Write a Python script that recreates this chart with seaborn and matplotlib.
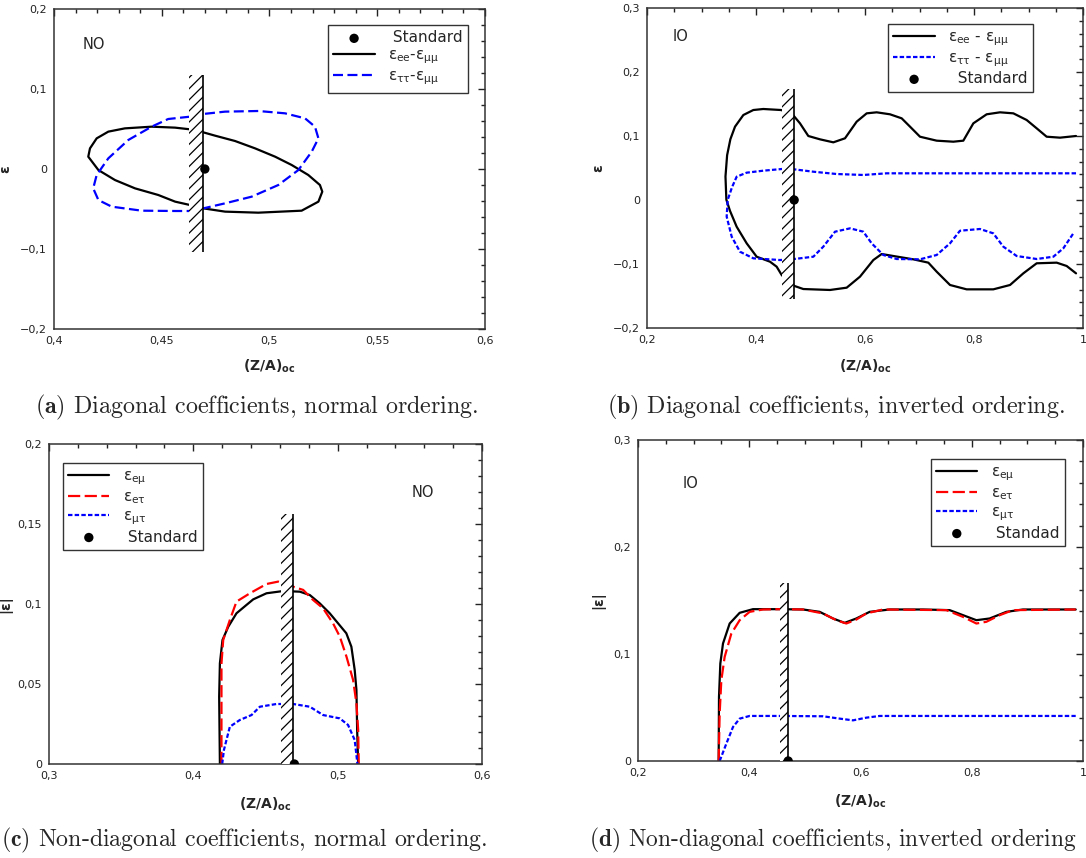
import matplotlib
matplotlib.use('Agg')
import matplotlib.pyplot as plt
import seaborn as sns
from matplotlib.patches import Rectangle
from matplotlib.ticker import MultipleLocator, FuncFormatter

# --- (a) diagonal, normal ordering ---
a_ee_x = [0.4631, 0.4562, 0.4453, 0.4329, 0.4252, 0.4198, 0.4167, 0.4159, 0.4206, 0.4283, 0.4376, 0.4484,
          0.4562, 0.4631, 0.4693, 0.4794, 0.4948, 0.5149, 0.5227, 0.5245, 0.5234, 0.5180, 0.5103, 0.5026,
          0.4933, 0.4840, 0.4747, 0.4693, 0.4631]
a_ee_y = [0.0496, 0.0517, 0.0529, 0.0508, 0.0467, 0.0383, 0.0258, 0.0154, -0.0013, -0.0138, -0.0242, -0.0325,
          -0.0408, -0.0450, -0.0492, -0.0533, -0.0546, -0.0521, -0.0408, -0.0283, -0.0200, -0.0075, 0.0050, 0.0154,
          0.0258, 0.0350, 0.0417, 0.0458, 0.0496]
a_tt_x = [0.4631, 0.4530, 0.4453, 0.4345, 0.4252, 0.4198, 0.4182, 0.4206, 0.4268, 0.4407, 0.4562, 0.4631,
          0.4693, 0.4794, 0.4917, 0.5041, 0.5134, 0.5196, 0.5227, 0.5211, 0.5165, 0.5072, 0.4948, 0.4794,
          0.4693, 0.4631]
a_tt_y = [0.0654, 0.0625, 0.0529, 0.0363, 0.0133, -0.0075, -0.0242, -0.0388, -0.0471, -0.0521, -0.0525, -0.0525,
          -0.0492, -0.0429, -0.0346, -0.0200, -0.0013, 0.0217, 0.0383, 0.0529, 0.0633, 0.0696, 0.0725, 0.0717,
          0.0688, 0.0654]

# --- (b) diagonal, inverted ordering ---
b_ee_x = [0.9872, 0.9578, 0.9333, 0.9150, 0.8966, 0.8722, 0.8477, 0.8232, 0.7988, 0.7804, 0.7621, 0.7315,
          0.7009, 0.6826, 0.6673, 0.6459, 0.6214, 0.6031, 0.5847, 0.5633, 0.5419, 0.5174, 0.4960, 0.4807,
          0.4654, 0.4459, 0.4134, 0.3951, 0.3768, 0.3615, 0.3530, 0.3470, 0.3440, 0.3456, 0.3523, 0.3645,
          0.3829, 0.4012, 0.4257, 0.4379, 0.4471, 0.4654, 0.4868, 0.5358, 0.5664, 0.5908, 0.6153, 0.6306,
          0.6520, 0.6887, 0.7162, 0.7315, 0.7560, 0.7865, 0.8354, 0.8661, 0.8905, 0.9150, 0.9517, 0.9700, 0.9872]
b_ee_y = [0.1000, 0.0974, 0.0989, 0.1120, 0.1250, 0.1354, 0.1370, 0.1339, 0.1198, 0.0927, 0.0911, 0.0927,
          0.0989, 0.1146, 0.1276, 0.1339, 0.1370, 0.1354, 0.1224, 0.0964, 0.0901, 0.0948, 0.1000, 0.1198,
          0.1354, 0.1406, 0.1422, 0.1406, 0.1328, 0.1146, 0.0950, 0.0700, 0.0367, 0.0005, -0.0170, -0.0417,
          -0.0677, -0.0886, -0.0964, -0.1042, -0.1172, -0.1328, -0.1391, -0.1406, -0.1370, -0.1198, -0.0938, -0.0844,
          -0.0875, -0.0927, -0.0979, -0.1120, -0.1328, -0.1396, -0.1396, -0.1328, -0.1146, -0.0989, -0.0979, -0.1031, -0.1146]
b_tt_x = [0.9872, 0.6398, 0.5969, 0.5480, 0.5052, 0.4654, 0.4471, 0.4134, 0.3829, 0.3645, 0.3560, 0.3480,
          0.3462, 0.3554, 0.3706, 0.3951, 0.4440, 0.4654, 0.5052, 0.5235, 0.5450, 0.5725, 0.5969, 0.6122,
          0.6336, 0.6581, 0.7009, 0.7315, 0.7560, 0.7743, 0.8110, 0.8354, 0.8538, 0.8783, 0.9150, 0.9456,
          0.9639, 0.9823]
b_tt_y = [0.0417, 0.0417, 0.0391, 0.0406, 0.0442, 0.0484, 0.0484, 0.0458, 0.0427, 0.0364, 0.0200, 0.0000,
          -0.0260, -0.0573, -0.0808, -0.0911, -0.0938, -0.0927, -0.0886, -0.0729, -0.0495, -0.0443, -0.0495, -0.0677,
          -0.0859, -0.0922, -0.0927, -0.0859, -0.0677, -0.0480, -0.0453, -0.0521, -0.0729, -0.0875, -0.0922, -0.0886,
          -0.0755, -0.0521]

# --- (c) non-diagonal, normal ordering ---
c_em_x = [0.4184, 0.4179, 0.4184, 0.4202, 0.4242, 0.4299, 0.4368, 0.4415, 0.4507, 0.4622, 0.4738, 0.4807,
          0.4876, 0.4945, 0.5003, 0.5060, 0.5095, 0.5118, 0.5130, 0.5135, 0.5142]
c_em_y = [0.0, 0.0421, 0.0629, 0.0775, 0.0858, 0.0942, 0.0994, 0.1029, 0.1067, 0.1081, 0.1077, 0.1056,
          0.1004, 0.0942, 0.0879, 0.0817, 0.0733, 0.0588, 0.0463, 0.0213, 0.0]
c_et_x = [0.4195, 0.4195, 0.4195, 0.4207, 0.4253, 0.4299, 0.4392, 0.4507, 0.4588, 0.4692, 0.4761, 0.4830,
          0.4899, 0.4968, 0.5015, 0.5061, 0.5107, 0.5130, 0.5142, 0.5146]
c_et_y = [0.0, 0.0213, 0.0629, 0.0775, 0.0900, 0.1015, 0.1067, 0.1125, 0.1140, 0.1108, 0.1088, 0.1025,
          0.0973, 0.0879, 0.0796, 0.0671, 0.0525, 0.0379, 0.0213, 0.0]
c_mt_x = [0.4200, 0.4212, 0.4253, 0.4322, 0.4403, 0.4461, 0.4576, 0.4692, 0.4807, 0.4899, 0.5015, 0.5072,
          0.5118, 0.5137]
c_mt_y = [0.0, 0.0088, 0.0233, 0.0275, 0.0306, 0.0358, 0.0375, 0.0375, 0.0358, 0.0306, 0.0285, 0.0244,
          0.0150, 0.0]

# --- (d) non-diagonal, inverted ordering ---
d_em_x = [0.345, 0.3456, 0.3480, 0.3528, 0.3648, 0.3828, 0.4067, 0.4547, 0.4966, 0.5266, 0.5505, 0.5715,
          0.5925, 0.6165, 0.6524, 0.7124, 0.7603, 0.7843, 0.8083, 0.8322, 0.8622, 0.8921, 0.9869]
d_em_y = [0.0, 0.0599, 0.0911, 0.1098, 0.1285, 0.1385, 0.1419, 0.1419, 0.1416, 0.1394, 0.1332, 0.1291,
          0.1332, 0.1394, 0.1416, 0.1416, 0.1410, 0.1363, 0.1316, 0.1332, 0.1394, 0.1416, 0.1416]
d_et_x = [0.345, 0.3468, 0.3498, 0.3558, 0.3678, 0.3828, 0.4007, 0.4247, 0.4547, 0.4966, 0.5326, 0.5565,
          0.5745, 0.5925, 0.6105, 0.6404, 0.7543, 0.7843, 0.8083, 0.8262, 0.8502, 0.8742, 0.9869]
d_et_y = [0.0, 0.0443, 0.0755, 0.0973, 0.1191, 0.1316, 0.1394, 0.1416, 0.1419, 0.1416, 0.1379, 0.1316,
          0.1285, 0.1322, 0.1379, 0.1416, 0.1410, 0.1347, 0.1285, 0.1301, 0.1363, 0.1410, 0.1416]
d_mt_x = [0.3468, 0.3588, 0.3708, 0.3828, 0.4007, 0.4547, 0.5326, 0.5626, 0.5865, 0.6105, 0.6345, 0.9869]
d_mt_y = [0.0, 0.0162, 0.0318, 0.0396, 0.0421, 0.0421, 0.0418, 0.0396, 0.0380, 0.0405, 0.0421, 0.0421]

# standard point and allowed (Z/A) band per panel: [x0, x1, y0, y1]
std_x = [0.47]
std_y = [0.0]
band_a = [0.4627, 0.4692, -0.104, 0.118]
band_b = [0.4477, 0.4695, -0.155, 0.173]
band_c = [0.4610, 0.4690, 0.0, 0.156]
band_d = [0.4547, 0.4705, 0.0, 0.166]

captions = ['Diagonal coefficients, normal ordering.',
            'Diagonal coefficients, inverted ordering.',
            'Non-diagonal coefficients, normal ordering.',
            'Non-diagonal coefficients, inverted ordering']

sns.set_style('white')
plt.rcParams['font.family'] = ['DejaVu Sans']
plt.rcParams['hatch.linewidth'] = 0.9

fig = plt.figure(figsize=(10.86, 8.58), dpi=100)
W, H = 1086, 858


def make_ax(l, t, r, b):
    return fig.add_axes([l / W, 1 - b / H, (r - l) / W, (b - t) / H])


def comma(v, pos):
    s = '%g' % round(v, 6)
    return s.replace('.', ',').replace('-', '\u2212')


def style_ax(ax, xlim, ylim, xmaj, xmin, ymaj, ymin):
    ax.set_xlim(*xlim)
    ax.set_ylim(*ylim)
    ax.xaxis.set_major_locator(MultipleLocator(xmaj))
    ax.xaxis.set_minor_locator(MultipleLocator(xmin))
    ax.yaxis.set_major_locator(MultipleLocator(ymaj))
    ax.yaxis.set_minor_locator(MultipleLocator(ymin))
    ax.xaxis.set_major_formatter(FuncFormatter(comma))
    ax.yaxis.set_major_formatter(FuncFormatter(comma))
    ax.tick_params(which='both', direction='in', top=True, right=True, color='#222222',
                   labelsize=8, labelcolor='#222222', pad=5)
    ax.tick_params(which='major', length=5, width=1)
    ax.tick_params(which='minor', length=3.2, width=1)
    for sp in ax.spines.values():
        sp.set_color('#333333')
        sp.set_linewidth(1.1)


def add_band(ax, band):
    x0, x1, y0, y1 = band
    ax.add_patch(Rectangle((x0, y0), x1 - x0, y1 - y0, facecolor='white', edgecolor='black',
                           hatch='///', linewidth=0, zorder=3))
    ax.vlines(x1, y0, y1, color='black', linewidth=1.2, zorder=4)


def line(ax, x, y, color, ls, label):
    sns.lineplot(x=x, y=y, sort=False, estimator=None, color=color, linestyle=ls,
                 linewidth=1.6, label=label, ax=ax, zorder=2)


def std(ax, label):
    sns.scatterplot(x=std_x, y=std_y, color='black', s=45, edgecolor='none', label=label,
                    ax=ax, zorder=5, clip_on=True)


def legend(ax, order, x0, top):
    h, l = ax.get_legend_handles_labels()
    d = dict(zip(l, h))
    leg = ax.legend([d[k] for k in order], order, loc='upper left', bbox_to_anchor=(x0, top),
                    fontsize=11, frameon=True, fancybox=False, edgecolor='#333333',
                    framealpha=1, labelspacing=0.15, handlelength=2.7, handletextpad=0.9,
                    borderpad=0.35, borderaxespad=0)
    leg.get_frame().set_linewidth(1.0)


ee_mm = 'ε$_{\\mathrm{ee}}$-ε$_{\\mathrm{μμ}}$'
tt_mm = 'ε$_{\\mathrm{ττ}}$-ε$_{\\mathrm{μμ}}$'
ee_mm2 = 'ε$_{\\mathrm{ee}}$ - ε$_{\\mathrm{μμ}}$'
tt_mm2 = 'ε$_{\\mathrm{ττ}}$ - ε$_{\\mathrm{μμ}}$'
em = 'ε$_{\\mathrm{eμ}}$'
et = 'ε$_{\\mathrm{eτ}}$'
mt = 'ε$_{\\mathrm{μτ}}$'
xlab = r'$\mathbf{(Z/A)_{oc}}$'

# (a)
ax = make_ax(54, 9, 485, 329)
line(ax, a_ee_x, a_ee_y, 'black', '-', ee_mm)
line(ax, a_tt_x, a_tt_y, '#0000ff', (0, (4.5, 2)), tt_mm)
std(ax, ' Standard')
add_band(ax, band_a)
style_ax(ax, (0.4, 0.6), (-0.2, 0.2), 0.05, 0.01, 0.1, 0.02)
legend(ax, [' Standard', ee_mm, tt_mm], 0.636, 0.95)
ax.text(0.093, 0.89, 'NO', transform=ax.transAxes, fontsize=10.5, ha='center', va='center')
ax.set_xlabel(xlab, fontsize=10)
ax.set_ylabel('ε', fontsize=10, fontweight='bold')
ax.xaxis.set_label_coords(0.5, -0.088)
ax.yaxis.set_label_coords(-0.097, 0.5)

# (b)
ax = make_ax(647, 8, 1083, 328)
line(ax, b_ee_x, b_ee_y, 'black', '-', ee_mm2)
line(ax, b_tt_x, b_tt_y, '#0000ff', (0, (2, 1)), tt_mm2)
std(ax, '  Standard')
add_band(ax, band_b)
style_ax(ax, (0.2, 1.0), (-0.2, 0.3), 0.2, 0.05, 0.1, 0.02)
legend(ax, [ee_mm2, tt_mm2, '  Standard'], 0.553, 0.95)
ax.text(0.078, 0.91, 'IO', transform=ax.transAxes, fontsize=10.5, ha='center', va='center')
ax.set_xlabel(xlab, fontsize=10)
ax.set_ylabel('ε', fontsize=10, fontweight='bold')
ax.xaxis.set_label_coords(0.5, -0.094)
ax.yaxis.set_label_coords(-0.096, 0.5)

# (c)
ax = make_ax(49, 444, 482, 764)
line(ax, c_em_x, c_em_y, 'black', '-', em)
line(ax, c_et_x, c_et_y, '#ff0000', (0, (5.5, 2)), et)
line(ax, c_mt_x, c_mt_y, '#0000ff', (0, (2, 1)), mt)
std(ax, ' Standard')
add_band(ax, band_c)
style_ax(ax, (0.3, 0.6), (0.0, 0.2), 0.1, 0.02, 0.05, 0.01)
legend(ax, [em, et, mt, ' Standard'], 0.032, 0.94)
ax.text(0.864, 0.847, 'NO', transform=ax.transAxes, fontsize=10.5, ha='center', va='center')
ax.set_xlabel(xlab, fontsize=10)
ax.set_ylabel('|ε|', fontsize=10, fontweight='bold')
ax.xaxis.set_label_coords(0.5, -0.1)
ax.yaxis.set_label_coords(-0.085, 0.5)

# (d)
ax = make_ax(638, 440, 1083, 761)
line(ax, d_em_x, d_em_y, 'black', '-', em)
line(ax, d_et_x, d_et_y, '#ff0000', (0, (5.5, 2)), et)
line(ax, d_mt_x, d_mt_y, '#0000ff', (0, (2, 1)), mt)
std(ax, ' Standad')
add_band(ax, band_d)
style_ax(ax, (0.2, 1.0), (0.0, 0.3), 0.2, 0.05, 0.1, 0.02)
legend(ax, [em, et, mt, ' Standad'], 0.658, 0.94)
ax.text(0.117, 0.866, 'IO', transform=ax.transAxes, fontsize=10.5, ha='center', va='center')
ax.set_xlabel(xlab, fontsize=10)
ax.set_ylabel('|ε|', fontsize=10, fontweight='bold')
ax.xaxis.set_label_coords(0.5, -0.1)
ax.yaxis.set_label_coords(-0.074, 0.5)

# captions
for (px, py, fs), tag, cap in zip([(35, 407, 17.3), (607, 407, 17.3), (1, 840, 17.2), (589, 840, 16.9)],
                                  ['a', 'b', 'c', 'd'], captions):
    fig.text(px / W, 1 - py / H, r'$\mathbf{(%s)}$ %s' % (tag, cap), fontsize=fs,
             family='cmr10', math_fontfamily='cm', ha='left', va='center')

fig.savefig('out.png', dpi=100)
